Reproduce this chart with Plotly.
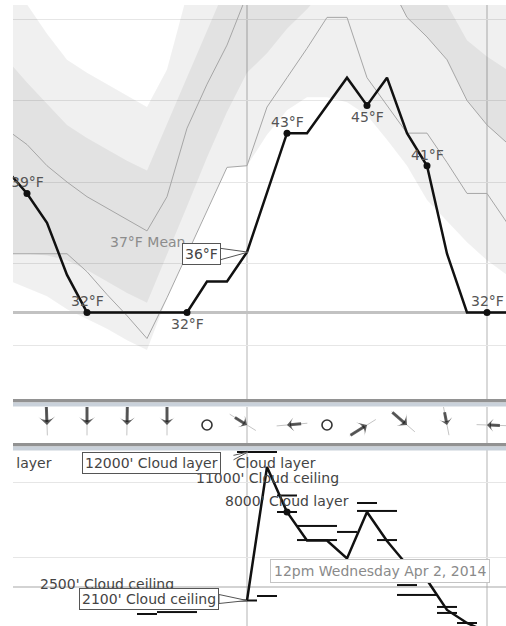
import plotly.graph_objects as go

W, H = 506, 626
FONT = "DejaVu Sans"

# ---------------- temperature panel (hours after midnight, Wed Apr 2 2014) ----------------
hours = list(range(26))
temp_f = [40.7, 39.3, 37.5, 34.3, 32.0, 32.0, 32.0, 32.0, 32.0, 32.0, 33.9, 33.9, 35.7,
          39.3, 43.0, 43.0, 44.7, 46.4, 44.7, 46.4, 43.0, 41.0, 35.6, 32.0, 32.0, 32.0]
mean_f = [43.2, 42.3, 41.0, 40.0, 39.1, 38.4, 37.7, 37.0, 39.1, 43.3, 46.0, 48.4, 51.5,
          53.5, 55.0, 56.0, 56.5, 56.0, 54.5, 52.5, 50.1, 48.9, 47.5, 45.0, 43.5, 42.4]
model_f = [35.6, 35.6, 35.6, 35.6, 34.5, 33.1, 31.8, 30.4, 32.9, 35.6, 38.3, 40.9, 41.0,
           44.6, 46.4, 48.2, 50.1, 50.1, 46.4, 44.7, 43.0, 43.0, 41.2, 39.3, 39.3, 37.5]
outer_hi_f = [51.8, 50.9, 49.1, 47.5, 46.7, 46.0, 45.3, 44.6, 46.9, 51.5, 54.0, 56.0, 58.0,
              60.0, 61.0, 62.0, 62.0, 61.0, 60.0, 58.0, 56.0, 55.0, 54.0, 53.0, 52.5, 52.0]
outer_lo_f = [34.0, 33.5, 33.0, 32.2, 31.6, 31.0, 30.3, 29.7, 32.9, 35.6, 38.3, 40.9, 41.0,
              42.9, 44.4, 45.2, 45.2, 44.9, 44.1, 42.6, 41.0, 38.9, 37.6, 36.3, 35.2, 34.3]
inner_hi_f = [47.5, 46.1, 44.8, 43.5, 42.7, 42.0, 41.3, 40.7, 43.6, 46.5, 49.4, 52.3, 55.0,
              57.0, 58.0, 59.0, 59.0, 58.0, 57.0, 55.5, 54.0, 52.5, 50.9, 48.7, 47.7, 46.9]
inner_lo_f = [35.6, 35.6, 35.5, 35.2, 34.6, 33.9, 33.2, 32.6, 35.5, 38.5, 41.5, 44.3, 46.7,
              47.9, 49.4, 50.6, 52.0, 53.5, 53.5, 52.3, 50.1, 48.9, 47.5, 45.0, 43.5, 42.4]
temp_label_hours = [1, 4, 9, 14, 18, 21, 24]
temp_label_below = [False, False, True, False, True, False, False]
mean_label_hour = 7
freezing_f = 32
hover_hour = 12
hover_text = "12pm Wednesday Apr 2, 2014"

# ---------------- wind panel ----------------
wind_hours = [2, 4, 6, 8, 10, 12, 14, 16, 18, 20, 22, 24]
wind_dir_deg = [178, 180, 181, 180, None, 122, 265, None, 58, 131, 169, 272]
wind_speed_mph = [10, 9, 7, 7, 0, 4, 4, 0, 8, 8, 3, 3]

# ---------------- cloud panel ----------------
ceiling_ft = [None, None, None, None, None, 2500, None, None, None, None, None, None, 2100,
              11000, 8000, 6100, 6100, 4900, 8000, 6070, 4470, 3470, 1470, 600, 0, 0]
ceiling_dot_hours = [14]
layer_hours = [7, 8, 9, 12, 13, 12, 13, 14, 14, 15, 16, 15, 16, 17, 18, 18, 19, 19, 20, 20, 21, 22, 22, 23]
layer_ft = [1200, 1330, 1330, 12000, 12000, 2100, 2400, 9100, 8000, 7070, 7070, 6130, 6130, 6670,
            8600, 8070, 8070, 6130, 3130, 2470, 2470, 1670, 1270, 600]
ceiling_label_hours = [5, 13]
ceiling_label_below = [False, True]
layer_label_hours = [12, 14]
layer_label_ft = [12000, 8000]
layer_label_below = [True, False]
offscreen_layer_ft = 12000
ceiling_threshold_ft = 3000

# ---------------- layout geometry (pixels) ----------------
X_RANGE = [0.30, 24.95]
T_RANGE = [26.69, 50.86]
C_RANGE = [400, 12133]


def py(px):
    return 1 - px / H


fig = go.Figure()

# bands
fig.add_trace(go.Scatter(x=hours + hours[::-1], y=outer_hi_f + outer_lo_f[::-1], fill="toself",
                         fillcolor="rgba(0,0,0,0.06)", line=dict(width=0), mode="lines",
                         hoverinfo="skip", xaxis="x", yaxis="y"))
fig.add_trace(go.Scatter(x=hours + hours[::-1], y=inner_hi_f + inner_lo_f[::-1], fill="toself",
                         fillcolor="rgba(0,0,0,0.055)", line=dict(width=0), mode="lines",
                         hoverinfo="skip", xaxis="x", yaxis="y"))
fig.add_trace(go.Scatter(x=hours, y=mean_f, mode="lines", line=dict(color="#a6a6a6", width=1),
                         xaxis="x", yaxis="y"))
fig.add_trace(go.Scatter(x=hours, y=model_f, mode="lines", line=dict(color="#a6a6a6", width=1),
                         xaxis="x", yaxis="y"))
# freezing line
fig.add_trace(go.Scatter(x=X_RANGE, y=[freezing_f, freezing_f], mode="lines",
                         line=dict(color="#c2c2c2", width=3), xaxis="x", yaxis="y"))
fig.add_trace(go.Scatter(x=hours, y=temp_f, mode="lines", line=dict(color="#111111", width=2.5),
                         xaxis="x", yaxis="y"))
fig.add_trace(go.Scatter(x=temp_label_hours, y=[temp_f[h] for h in temp_label_hours], mode="markers",
                         marker=dict(color="#111111", size=7), xaxis="x", yaxis="y"))

# wind
calm_h = [h for h, d in zip(wind_hours, wind_dir_deg) if d is None]
wh = [h for h, d in zip(wind_hours, wind_dir_deg) if d is not None]
wd = [d for d in wind_dir_deg if d is not None]
ws = [s for s, d in zip(wind_speed_mph, wind_dir_deg) if d is not None]
shaft_len = [6 + 1.3 * s for s in ws]
fig.add_trace(go.Scatter(x=wh, y=[0.5] * len(wh), mode="markers", xaxis="x2", yaxis="y2",
                         marker=dict(symbol="line-ns", size=22, angle=wd, standoff=[5] * len(wh),
                                     line=dict(color="#c4c4c4", width=1))))
fig.add_trace(go.Scatter(x=wh, y=[0.5] * len(wh), mode="markers", xaxis="x2", yaxis="y2",
                         marker=dict(symbol="line-ns", size=[L / 1.4 for L in shaft_len], angle=wd,
                                     standoff=[L / 2 + 3 for L in shaft_len],
                                     line=dict(color="#1a1a1a", width=3))))
fig.add_trace(go.Scatter(x=wh, y=[0.5] * len(wh), mode="markers", xaxis="x2", yaxis="y2",
                         marker=dict(symbol="arrow-wide", size=[8 + 0.4 * s for s in ws], angle=wd,
                                     color="#1a1a1a", line=dict(width=0))))
fig.add_trace(go.Scatter(x=calm_h, y=[0.5] * len(calm_h), mode="markers", xaxis="x2", yaxis="y2",
                         marker=dict(symbol="circle-open", size=10, color="#333333",
                                     line=dict(color="#333333", width=1.6))))

# clouds
fig.add_trace(go.Scatter(x=X_RANGE, y=[ceiling_threshold_ft] * 2, mode="lines",
                         line=dict(color="#a8a8a8", width=1.2), xaxis="x3", yaxis="y3"))
fig.add_trace(go.Scatter(x=layer_hours, y=layer_ft, mode="markers", xaxis="x3", yaxis="y3",
                         marker=dict(symbol="line-ew", size=14.3, line=dict(color="#111111", width=2))))
fig.add_trace(go.Scatter(x=hours, y=ceiling_ft, mode="lines", connectgaps=False, xaxis="x3", yaxis="y3",
                         line=dict(color="#111111", width=2.5)))
fig.add_trace(go.Scatter(x=ceiling_dot_hours, y=[ceiling_ft[h] for h in ceiling_dot_hours], mode="markers",
                         marker=dict(color="#111111", size=7), xaxis="x3", yaxis="y3"))

ann = []
for h, below in zip(temp_label_hours, temp_label_below):
    ann.append(dict(x=h, y=temp_f[h], xref="x", yref="y", text=f"{round(temp_f[h])}°F", showarrow=False,
                    yshift=-12 if below else 11, font=dict(family=FONT, size=14, color="#555555")))
ann.append(dict(x=mean_label_hour, y=mean_f[mean_label_hour], xref="x", yref="y",
                text=f"{round(mean_f[mean_label_hour])}°F Mean", showarrow=False, yshift=-11,
                font=dict(family=FONT, size=14, color="#8c8c8c")))
for h, below in zip(ceiling_label_hours, ceiling_label_below):
    ann.append(dict(x=h, y=ceiling_ft[h], xref="x3", yref="y3", text=f"{ceiling_ft[h]}' Cloud ceiling",
                    showarrow=False, yshift=-11 if below else 11,
                    font=dict(family=FONT, size=14, color="#444444")))
for h, f, below in zip(layer_label_hours, layer_label_ft, layer_label_below):
    ann.append(dict(x=h, y=f, xref="x3", yref="y3", text=f"{f}' Cloud layer",
                    showarrow=False, yshift=-11 if below else 11, xshift=2 if below else 0,
                    font=dict(family=FONT, size=14, color="#444444")))
ann.append(dict(x=X_RANGE[0], y=offscreen_layer_ft, xref="x3", yref="y3", xanchor="right",
                text=f"{offscreen_layer_ft}' Cloud layer", showarrow=False, xshift=41, yshift=-11,
                font=dict(family=FONT, size=14, color="#444444")))

# white cover where the 12000' tooltip wedge hides the label behind it
ann.append(dict(x=hover_hour, y=12000, xref="x3", yref="y3", text=" ", showarrow=False,
                width=12, height=14, borderpad=0, bgcolor="white", xshift=-20, yshift=-10))

# hover tooltips at 12pm
box = dict(showarrow=False, bgcolor="white", bordercolor="#555555", borderwidth=1, borderpad=2,
           font=dict(family=FONT, size=14, color="#444444"))
ann.append(dict(x=hover_hour, y=temp_f[hover_hour], xref="x", yref="y",
                text=f"{round(temp_f[hover_hour])}°F", xshift=-46, yshift=-2, **box))
ann.append(dict(x=hover_hour, y=12000, xref="x3", yref="y3",
                text="12000' Cloud layer", xshift=-96, yshift=-11, **box))
ann.append(dict(x=hover_hour, y=ceiling_ft[hover_hour], xref="x3", yref="y3",
                text=f"{ceiling_ft[hover_hour]}' Cloud ceiling", xshift=-98, yshift=2, **box))
ann.append(dict(x=(379.5 - 13) / 493, y=py(571), xref="paper", yref="paper", text=hover_text,
                xanchor="center", yanchor="middle",
                showarrow=False, bgcolor="white", bordercolor="#c4c4c4", borderwidth=1, borderpad=3,
                font=dict(family=FONT, size=14, color="#8a8a8a")))
# left margin: labels are clipped at the plot edge
ann.append(dict(x=0, y=0.5, xref="paper", yref="paper", xanchor="right", yanchor="middle",
                text=" ", showarrow=False, width=13, height=H, borderpad=0, bgcolor="white"))

shapes = [
    # callout wedges
    dict(type="path", xref="x", yref="y", xsizemode="pixel", ysizemode="pixel", xanchor=hover_hour,
         yanchor=temp_f[hover_hour], path="M-28,4 L1,0 L-28,-8 Z", fillcolor="white",
         line=dict(color="#555555", width=1), layer="above"),
    dict(type="path", xref="x3", yref="y3", xsizemode="pixel", ysizemode="pixel", xanchor=hover_hour,
         yanchor=12000, path="M-25,-6 L1,0 L-25,-14 Z", fillcolor="white",
         line=dict(color="#555555", width=1), layer="above"),
    dict(type="path", xref="x3", yref="y3", xsizemode="pixel", ysizemode="pixel", xanchor=hover_hour,
         yanchor=ceiling_ft[hover_hour], path="M-28,6 L0,0 L-28,-3 Z", fillcolor="white",
         line=dict(color="#555555", width=1), layer="above"),
]
# panel separators
for top in (399, 443):
    shapes.append(dict(type="rect", xref="paper", yref="paper", x0=0, x1=1, y0=py(top + 3.5), y1=py(top),
                       fillcolor="#929292", line=dict(width=0), layer="above"))
    shapes.append(dict(type="rect", xref="paper", yref="paper", x0=0, x1=1, y0=py(top + 7.5),
                       y1=py(top + 3.5), fillcolor="#c9d1da", line=dict(width=0), layer="above"))

xcommon = dict(range=X_RANGE, showticklabels=False, ticks="", showgrid=True, gridcolor="#d9d9d9",
               gridwidth=1.5, tick0=0, dtick=12, zeroline=False, showline=False, domain=[0, 1])
fig.update_layout(
    width=W, height=H, margin=dict(l=13, r=0, t=0, b=0), showlegend=False,
    paper_bgcolor="white", plot_bgcolor="white", hovermode=False,
    xaxis=dict(anchor="y", **xcommon),
    xaxis2=dict(anchor="y2", matches="x", **xcommon),
    xaxis3=dict(anchor="y3", matches="x", **xcommon),
    yaxis=dict(domain=[py(399), py(5)], range=T_RANGE, tick0=0, dtick=5, showticklabels=False,
               ticks="", gridcolor="#e6e6e6", zeroline=False, showline=False),
    yaxis2=dict(domain=[py(443), py(407)], range=[0, 1], showgrid=False, showticklabels=False,
                ticks="", zeroline=False, showline=False),
    yaxis3=dict(domain=[0, py(450)], range=C_RANGE, tick0=0, dtick=5000, showticklabels=False,
                ticks="", gridcolor="#e6e6e6", zeroline=False, showline=False),
    annotations=ann, shapes=shapes,
)

fig.write_html("out.html", config={"displayModeBar": False},
               post_script="document.body.style.margin='0';")
